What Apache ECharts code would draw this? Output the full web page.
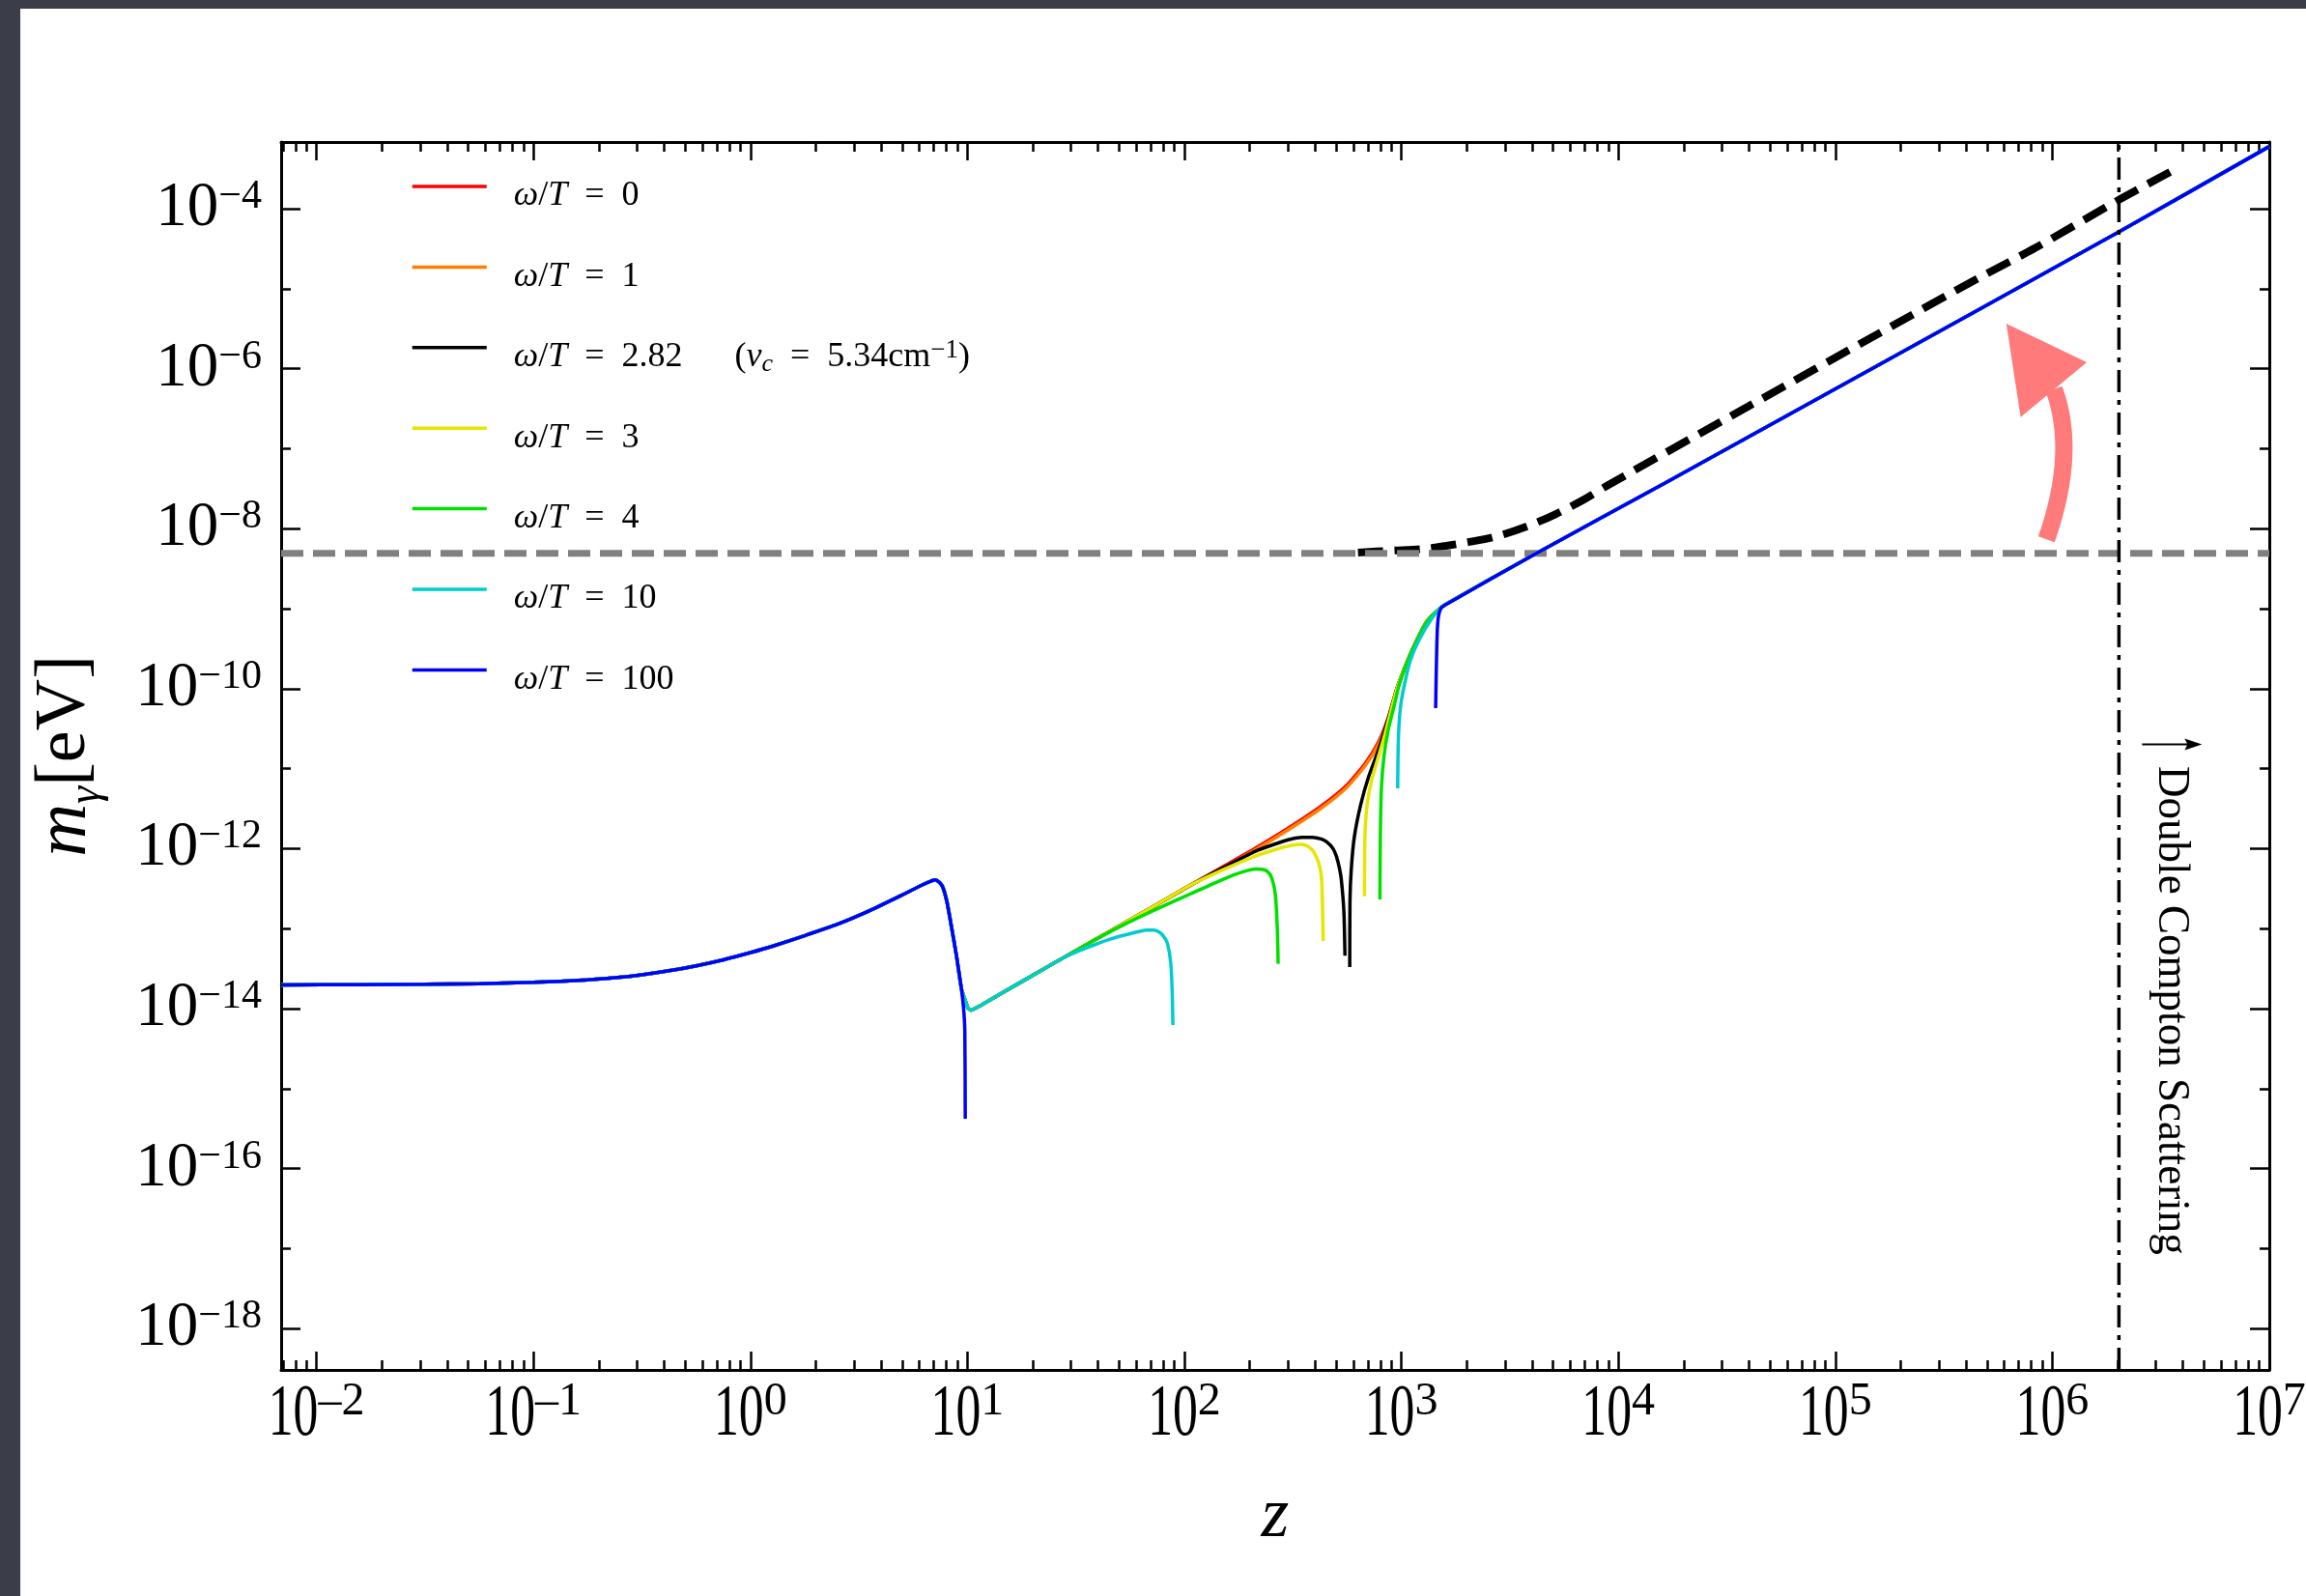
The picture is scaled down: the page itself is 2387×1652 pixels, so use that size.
<!DOCTYPE html>
<html>
<head>
<meta charset="utf-8">
<title>m_gamma vs z</title>
<script src="https://cdn.jsdelivr.net/npm/echarts@6.0.0/dist/echarts.min.js"></script>
<style>
  html, body { margin: 0; padding: 0; background: #3b3e49; }
  #main { position: absolute; left: 21px; top: 9px; width: 2366px; height: 1643px; background: #fff; }
</style>
</head>
<body>
<div id="main"></div>
<script>
var serif = 'Liberation Serif';

// axes run in log10 units: x = log10 z, y = log10(m_gamma / eV)
var xMin = -2.163, xMax = 7.0;
var yMin = -18.517, yMax = -3.167;
var xTickVals = [-2, -1, 0, 1, 2, 3, 4, 5, 6, 7];
var yTickVals = [-18, -16, -14, -12, -10, -8, -6, -4];
var yOddVals = [-17, -15, -13, -11, -9, -7, -5];
var xMinorVals = [];
for (var n = -3; n < 7; n++) {
  for (var k = 2; k <= 9; k++) {
    var v = n + Math.log10(k);
    if (v > xMin && v < xMax) xMinorVals.push(v);
  }
}

// curves, [log10 z, log10 m]
var lowZPath = [[-2.163,-13.705],[-1.8,-13.70],[-1.5,-13.696],[-1.25,-13.688],[-1.0,-13.672],[-0.75,-13.642],
  [-0.625,-13.615],[-0.5,-13.577],[-0.375,-13.527],[-0.25,-13.465],[-0.125,-13.39],[0.0,-13.30],
  [0.104,-13.218],[0.252,-13.086],[0.401,-12.946],[0.549,-12.776],[0.697,-12.583],[0.801,-12.442],
  [0.853,-12.39],[0.883,-12.462],[0.905,-12.659],[0.927,-12.986],[0.95,-13.348],[0.972,-13.747]];
var blueDrop = [[0.982,-13.988],[0.988,-14.274],[0.99,-15.377]];
var dipPath = [[0.99,-13.9],[1.002,-13.99],[1.017,-14.02],[1.053,-13.972],[1.143,-13.83]];
var risePath = [[1.291,-13.60],[1.439,-13.37],[1.588,-13.14],[1.736,-12.91],[1.885,-12.68],[2.033,-12.45]];
var redTail = [[2.182,-12.22],[2.33,-11.99],[2.478,-11.745],[2.627,-11.476],[2.746,-11.214],[2.834,-10.932],
  [2.894,-10.67],[2.939,-10.368],[2.983,-9.966],[3.042,-9.564],[3.117,-9.16],[3.176,-9.0],[3.206,-8.943]];
var orangeTail = [[2.182,-12.235],[2.33,-12.01],[2.478,-11.765],[2.627,-11.5],[2.746,-11.24],[2.834,-10.96],
  [2.894,-10.70],[2.939,-10.40],[2.983,-9.99],[3.042,-9.58],[3.117,-9.17],[3.176,-9.0],[3.206,-8.943]];
var highZPath = [[3.614,-8.32],[4.215,-7.43],[5.669,-5.25],[6.307,-4.29],[7.0,-3.223]];

var blackLeft = [[2.182,-12.235],[2.33,-12.03],[2.41,-11.95],[2.478,-11.89],[2.54,-11.86],[2.59,-11.858],
  [2.63,-11.88],[2.657,-11.919],[2.685,-12.0],[2.701,-12.1],[2.715,-12.25],[2.723,-12.382],[2.735,-12.784],[2.74,-13.34]];
var blackRight = [[2.762,-13.48],[2.763,-12.663],[2.769,-12.26],[2.783,-11.858],[2.812,-11.456],[2.85,-11.093],
  [2.894,-10.771],[2.92,-10.55],[2.939,-10.38],[2.983,-9.97],[3.042,-9.566],[3.117,-9.162],[3.176,-9.0],[3.206,-8.943]];
var yellowLeft = [[2.182,-12.26],[2.33,-12.09],[2.42,-12.01],[2.478,-11.97],[2.53,-11.947],[2.56,-11.96],
  [2.582,-11.999],[2.60,-12.06],[2.619,-12.18],[2.629,-12.3],[2.634,-12.463],[2.64,-13.155]];
var yellowRight = [[2.83,-12.595],[2.832,-11.85],[2.842,-11.456],[2.864,-11.134],[2.894,-10.852],[2.924,-10.57],
  [2.945,-10.35],[2.983,-9.97],[3.042,-9.566],[3.117,-9.162],[3.176,-9.0],[3.206,-8.943]];
var greenLeft = [[1.736,-12.93],[1.885,-12.74],[2.033,-12.56],[2.182,-12.38],[2.27,-12.29],[2.33,-12.255],
  [2.374,-12.27],[2.394,-12.32],[2.404,-12.382],[2.415,-12.5],[2.422,-12.663],[2.429,-13.066],[2.432,-13.44]];
var greenRight = [[2.901,-12.635],[2.903,-11.85],[2.908,-11.246],[2.92,-10.843],[2.939,-10.52],[2.968,-10.2],
  [2.99,-9.95],[3.042,-9.566],[3.117,-9.162],[3.176,-9.0],[3.206,-8.943]];
var cyanLeft = [[1.52,-13.27],[1.588,-13.2],[1.66,-13.13],[1.736,-13.074],[1.825,-13.018],[1.86,-13.02],
  [1.885,-13.046],[1.905,-13.1],[1.922,-13.187],[1.937,-13.429],[1.944,-13.81],[1.947,-14.205]];
var cyanRight = [[2.983,-11.246],[2.986,-10.651],[2.995,-10.248],[3.013,-9.966],[3.042,-9.644],[3.087,-9.362],
  [3.146,-9.1],[3.191,-8.967],[3.206,-8.943]];
var blueRight = [[3.158,-10.244],[3.16,-9.9],[3.163,-9.5],[3.166,-9.24],[3.172,-9.08],[3.182,-9.0],[3.198,-8.96]];

var dashedBlack = [[2.8,-8.30],[2.953,-8.275],[3.102,-8.255],[3.206,-8.215],[3.295,-8.175],[3.428,-8.106],
  [3.577,-7.974],[3.71,-7.82],[3.844,-7.632],[3.948,-7.463],[4.6,-6.47],[5.2,-5.56],[5.669,-4.854],
  [5.922,-4.49],[6.307,-3.89],[6.567,-3.505]];
var plasmaLevel = -8.308;
var zDC = 6.307;

var names = ['ω/T = 0', 'ω/T = 1', 'ω/T = 2.82', 'ω/T = 3', 'ω/T = 4', 'ω/T = 10', 'ω/T = 100'];
var colors = ['#ff0000', '#ff7f00', '#000000', '#e6e600', '#00e000', '#00cccc', '#0000ff'];

var head = lowZPath.concat(dipPath);
var segs = [
  [head.concat(risePath, redTail, highZPath)],
  [head.concat(risePath, orangeTail, highZPath)],
  [head.concat(risePath, blackLeft), blackRight.concat(highZPath)],
  [head.concat(risePath, yellowLeft), yellowRight.concat(highZPath)],
  [head.concat(risePath.slice(0, 3), greenLeft), greenRight.concat(highZPath)],
  [head.concat(risePath.slice(0, 2), cyanLeft), cyanRight.concat(highZPath)],
  [lowZPath.concat(blueDrop), blueRight.concat(highZPath)]
];

var series = [
  { type: 'line', data: dashedBlack, symbol: 'none', smooth: 0.3, silent: true,
    lineStyle: { color: '#000', width: 8, type: [26, 12], cap: 'butt' } },
  { type: 'line', data: [[xMin, plasmaLevel], [xMax, plasmaLevel]], symbol: 'none', silent: true,
    lineStyle: { color: '#808080', width: 7, type: [23, 10] } }
];
[0, 1].forEach(function (part) {
  segs.forEach(function (s, i) {
    if (!s[part]) return;
    series.push({
      type: 'line', name: names[i], data: s[part], symbol: 'none', smooth: 0.2,
      color: colors[i], lineStyle: { color: colors[i], width: 3.5 }
    });
  });
});
series.push({ type: 'line', data: [[zDC, yMin], [zDC, yMax]], symbol: 'none', silent: true,
  lineStyle: { color: '#000', width: 3.5, type: [23, 8, 5, 8] } });

function xAx(pos, ticks, len, line) {
  return { type: 'value', min: xMin, max: xMax, position: pos,
    axisLine: { show: line, onZero: false, lineStyle: { color: '#000', width: 3 } },
    axisTick: { inside: true, length: len, customValues: ticks, lineStyle: { color: '#000', width: 2.5 } },
    axisLabel: { show: false }, splitLine: { show: false } };
}
function yAx(pos, ticks, len, line) {
  return { type: 'value', min: yMin, max: yMax, position: pos,
    axisLine: { show: line, onZero: false, lineStyle: { color: '#000', width: 3 } },
    axisTick: { inside: true, length: len, customValues: ticks, lineStyle: { color: '#000', width: 2.5 } },
    axisLabel: { show: false }, splitLine: { show: false } };
}

var xAxes = [xAx('bottom', xTickVals, 19, true), xAx('top', xTickVals, 19, true),
  xAx('bottom', xMinorVals, 10, false), xAx('top', xMinorVals, 10, false)];
xAxes[0].name = 'z';
xAxes[0].nameLocation = 'middle';
xAxes[0].nameGap = 116;
xAxes[0].nameTextStyle = { fontFamily: serif, fontStyle: 'italic', fontSize: 74, color: '#000' };

var yAxes = [yAx('left', yTickVals, 20, true), yAx('right', yTickVals, 20, true),
  yAx('left', yOddVals, 10, false), yAx('right', yOddVals, 10, false)];
yAxes[0].axisLabel = {
  show: true, customValues: yTickVals, margin: 20, color: '#000',
  formatter: function (v) { return '{b|10}{s|−' + (-v) + '}'; },
  rich: {
    b: { fontFamily: serif, fontSize: 65, lineHeight: 66, color: '#000' },
    s: { fontFamily: serif, fontSize: 42, lineHeight: 30, verticalAlign: 'top', color: '#000' }
  }
};
yAxes[0].name = '{i|m}{g|γ}{r|[eV]}';
yAxes[0].nameLocation = 'middle';
yAxes[0].nameGap = 178;
yAxes[0].nameTextStyle = {
  color: '#000', fontFamily: serif, fontSize: 74,
  rich: {
    i: { fontFamily: serif, fontStyle: 'italic', fontSize: 76, lineHeight: 90 },
    g: { fontFamily: serif, fontStyle: 'italic', fontSize: 46, lineHeight: 50, verticalAlign: 'bottom' },
    r: { fontFamily: serif, fontSize: 74, lineHeight: 90 }
  }
};

function legendLabel(name) {
  var v = name.split('= ')[1];
  var s = '{it|ω}{rm|/}{it|T}{rm|\u2002=\u2002' + v + '}';
  if (v === '2.82') s += '{rm|\u2003\u2002(}{it|ν}{sub|c}{rm|\u2002=\u20025.34cm}{sup|−1}{rm|)}';
  return s;
}

var chart = echarts.init(document.getElementById('main'));
chart.setOption({
  animation: false,
  backgroundColor: '#fff',
  grid: { left: 270, top: 138, right: 38, bottom: 234, outerBoundsMode: 'none' },
  legend: {
    data: names, orient: 'vertical', left: 404, top: 154, padding: 0,
    itemWidth: 77, itemHeight: 60, itemGap: 23.4, selectedMode: false,
    itemStyle: { opacity: 0, borderWidth: 0 },
    lineStyle: { width: 3.5 },
    formatter: legendLabel,
    textStyle: {
      fontFamily: serif, fontSize: 36, color: '#000', lineHeight: 40, padding: [20, 0, 0, 23],
      rich: {
        it: { fontFamily: serif, fontStyle: 'italic', fontSize: 36, lineHeight: 40 },
        rm: { fontFamily: serif, fontSize: 36, lineHeight: 40 },
        sub: { fontFamily: serif, fontStyle: 'italic', fontSize: 26, lineHeight: 22, verticalAlign: 'bottom' },
        sup: { fontFamily: serif, fontSize: 27, lineHeight: 18, verticalAlign: 'top' }
      }
    }
  },
  xAxis: xAxes,
  yAxis: yAxes,
  series: series
});

// annotations placed through the chart's own scale
function toPx(x, y) { return chart.convertToPixel({ seriesIndex: 1 }, [x, y]); }
var mctx = document.createElement('canvas').getContext('2d');
function textW(str, size) { mctx.font = size + 'px "' + serif + '"'; return mctx.measureText(str).width; }

var gfx = [];
var axisY = toPx(xMin, yMin)[1];
var baseScale = 0.68;
xTickVals.forEach(function (t) {
  var p = toPx(t, yMin);
  var sup = t < 0 ? '\u2013' + (-t) : String(t);
  var wb = textW('10', 76) * baseScale, ws = textW(sup, 48);
  var left = p[0] - (wb + ws) / 2;
  gfx.push({ type: 'text', x: left, y: axisY + 47.5, scaleX: baseScale, silent: true,
    style: { text: '10', fontFamily: serif, fontSize: 76, align: 'left', verticalAlign: 'middle', fill: '#000' } });
  gfx.push({ type: 'text', x: left + wb, y: axisY + 33, silent: true,
    style: { text: sup, fontFamily: serif, fontSize: 48, align: 'left', verticalAlign: 'middle', fill: '#000' } });
});

var lineX = toPx(zDC, yMin)[0];
var arrowY = toPx(zDC, -10.697)[1];
var textY = toPx(zDC, -10.968)[1];
gfx.push({ type: 'line', silent: true, shape: { x1: lineX + 24, y1: arrowY, x2: lineX + 72, y2: arrowY },
  style: { stroke: '#000', lineWidth: 2 } });
gfx.push({ type: 'polygon', silent: true,
  shape: { points: [[lineX + 86, arrowY], [lineX + 68, arrowY - 6], [lineX + 71, arrowY], [lineX + 68, arrowY + 6]] },
  style: { fill: '#000' } });
gfx.push({ type: 'text', x: lineX + 54, y: textY, rotation: -Math.PI / 2, scaleX: 0.98, silent: true,
  style: { text: 'Double Compton Scattering', fontFamily: serif, fontSize: 46, fill: '#000',
    align: 'left', verticalAlign: 'middle' } });

// big salmon arrow
var tail = toPx(5.973, -8.134), ctrl = toPx(6.114, -7.044), end = toPx(6.008, -6.258);
var tip = toPx(5.788, -5.437), cA = toPx(6.159, -5.92), cB = toPx(5.854, -6.605);
gfx.push({ type: 'bezierCurve', silent: true,
  shape: { x1: tail[0], y1: tail[1], x2: end[0], y2: end[1], cpx1: ctrl[0], cpy1: ctrl[1] },
  style: { stroke: '#ff7a7a', lineWidth: 18, fill: null, lineCap: 'butt' } });
gfx.push({ type: 'polygon', silent: true, shape: { points: [tip, cA, cB] }, style: { fill: '#ff7a7a' } });

chart.setOption({ graphic: gfx });
</script>
</body>
</html>
